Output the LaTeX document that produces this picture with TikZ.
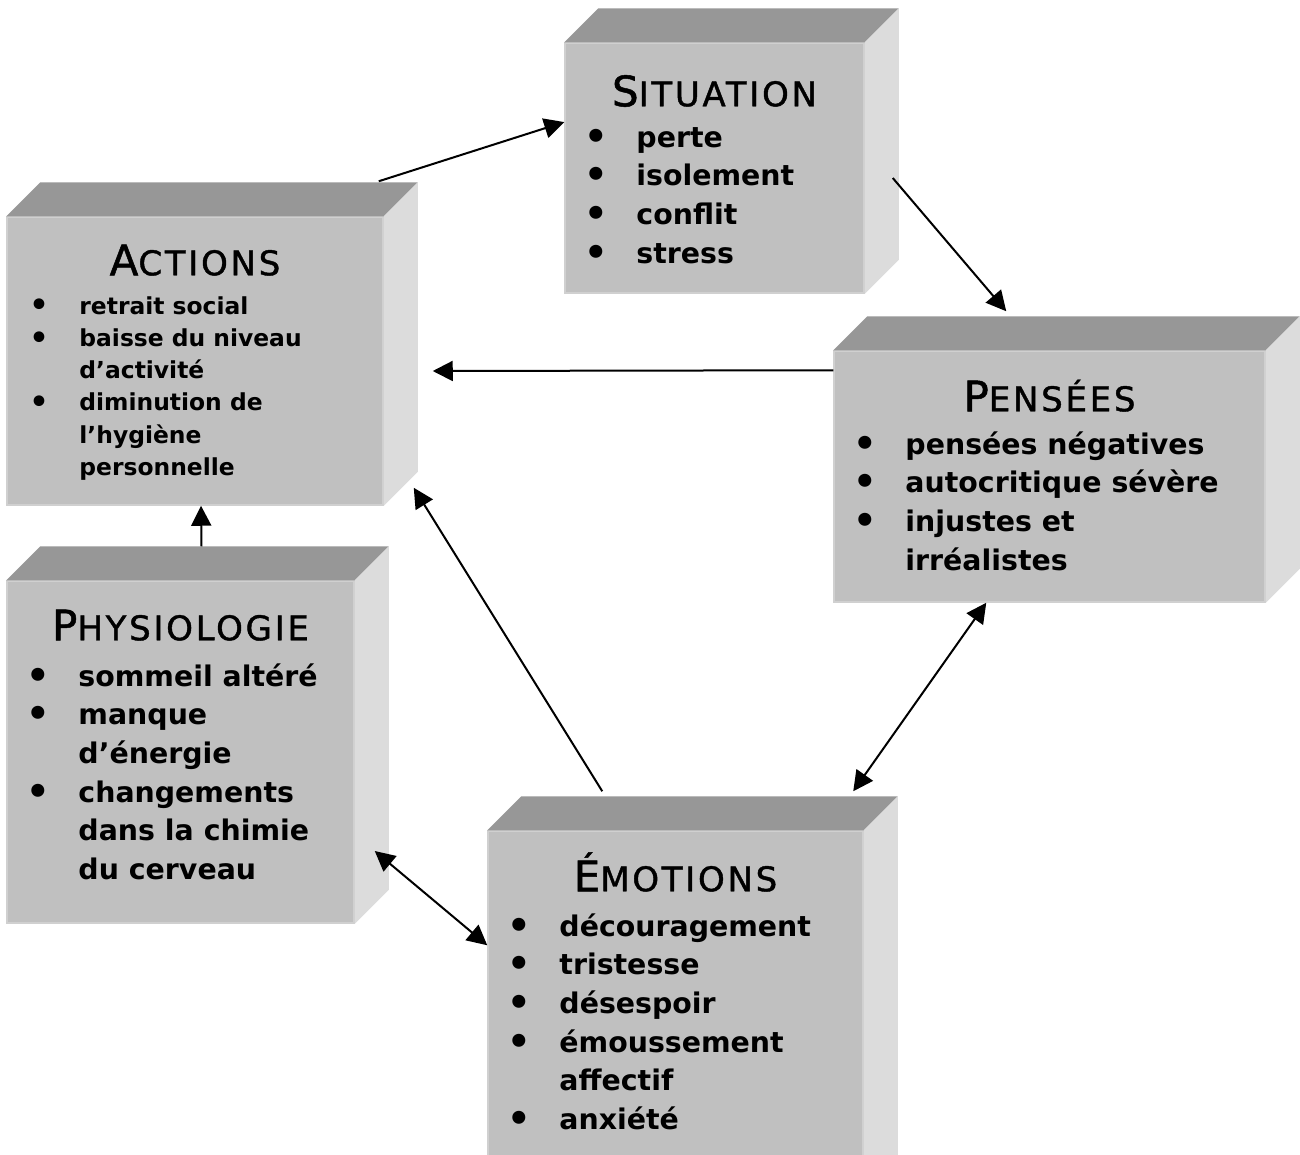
\documentclass[tikz,border=0pt]{standalone}
\usepackage{fontspec}
\setmainfont{DejaVu Sans}
\newfontfamily\capsfont[LetterSpace=8,FakeBold=1.2]{DejaVu Sans}
\usetikzlibrary{arrows.meta,calc}

\definecolor{frontgray}{HTML}{C0C0C0}
\definecolor{frontedge}{HTML}{D0D0D0}
\definecolor{topgray}{HTML}{979797}
\definecolor{sidegray}{HTML}{DCDCDC}

% fake small capitals for the box titles
\newcommand\smcap[2]{{\capsfont\fontsize{42}{42}\selectfont #1\fontsize{34}{34}\selectfont #2}}
\newcommand\bigitems{\fontsize{28.4}{38.6}\selectfont\bfseries}
\newcommand\smallitems{\fontsize{23.4}{32.2}\selectfont\bfseries}
% a slightly larger bullet
\newcommand\blt{\raisebox{-0.07em}{\scalebox{1.3}{\textbullet}}}

\tikzset{
  front/.style={draw=frontedge, line width=1.5pt, fill=frontgray, inner sep=0pt},
  topface/.style={fill=topgray},
  sideface/.style={fill=sidegray},
  title/.style={anchor=base, inner sep=0pt},
  items/.style={anchor=base west, inner sep=0pt},
  link/.style={line width=2pt, -{Triangle[length=20pt,width=20pt]}},
  twoway/.style={line width=2pt, {Triangle[length=20pt,width=20pt]}-{Triangle[length=20pt,width=20pt]}}
}

\begin{document}
\begin{tikzpicture}[x=1pt,y=-1pt]
  \useasboundingbox (0,0) rectangle (1300,1154);
  \clip (0,0) rectangle (1300,1154);

  % front faces
  \node[front, minimum width=299pt, minimum height=250pt] (sit) at (714.5,168) {};
  \node[front, minimum width=376pt, minimum height=288pt] (act) at (195,361) {};
  \node[front, minimum width=431pt, minimum height=251pt] (pen) at (1049.5,476.5) {};
  \node[front, minimum width=347pt, minimum height=342pt] (phy) at (180.5,752) {};
  \node[front, minimum width=375pt, minimum height=360pt] (emo) at (675.5,1011) {};

  % top and right faces
  \foreach \b in {sit,act,pen,phy,emo}{
    \fill[topface] (\b.north west) -- ++(34pt,34pt) -- ([shift={(34pt,34pt)}]\b.north east) -- (\b.north east) -- cycle;
    \fill[sideface] (\b.north east) -- ([shift={(34pt,34pt)}]\b.north east) -- ([shift={(34pt,34pt)}]\b.south east) -- (\b.south east) -- cycle;
  }

  % texts
  \node[title] at ([yshift=-64pt]sit.north) {\smcap{S}{ITUATION}};
  \node[items, font=\bigitems] at ([xshift=20pt,yshift=-105pt]sit.north west)
    {\begin{tabular}[t]{@{}p{52pt}@{}l@{}}
      \blt & perte\\ \blt & isolement\\ \blt & conflit\\ \blt & stress
    \end{tabular}};

  \node[title] at ([yshift=-59pt]act.north) {\smcap{A}{CTIONS}};
  \node[items, font=\smallitems] at ([xshift=23pt,yshift=-98pt]act.north west)
    {\begin{tabular}[t]{@{}p{50pt}@{}l@{}}
      \blt & retrait social\\ \blt & baisse du niveau\\ & d’activité\\
      \blt & diminution de\\ & l’hygiène\\ & personnelle
    \end{tabular}};

  \node[title] at ([yshift=-61pt]pen.north) {\smcap{P}{ENSÉES}};
  \node[items, font=\bigitems] at ([xshift=20pt,yshift=-104pt]pen.north west)
    {\begin{tabular}[t]{@{}p{52pt}@{}l@{}}
      \blt & pensées négatives\\ \blt & autocritique sévère\\
      \blt & injustes et\\ & irréalistes
    \end{tabular}};

  \node[title] at ([yshift=-60pt]phy.north) {\smcap{P}{HYSIOLOGIE}};
  \node[items, font=\bigitems] at ([xshift=20pt,yshift=-106pt]phy.north west)
    {\begin{tabular}[t]{@{}p{52pt}@{}l@{}}
      \blt & sommeil altéré\\ \blt & manque\\ & d’énergie\\
      \blt & changements\\ & dans la chimie\\ & du cerveau
    \end{tabular}};

  \node[title] at ([yshift=-61pt]emo.north) {\smcap{É}{MOTIONS}};
  \node[items, font=\bigitems] at ([xshift=20pt,yshift=-106pt]emo.north west)
    {\begin{tabular}[t]{@{}p{52pt}@{}l@{}}
      \blt & découragement\\ \blt & tristesse\\ \blt & désespoir\\
      \blt & émoussement\\ & affectif\\ \blt & anxiété
    \end{tabular}};

  % connectors
  \draw[link] ([xshift=-5pt,yshift=35pt]act.north east) -- (sit.163);
  \draw[link] ([xshift=28pt,yshift=-10pt]sit.east) -- ([xshift=173pt,yshift=39pt]pen.north west);
  \draw[link] ([yshift=-20pt]pen.north west) -- ([xshift=49pt,yshift=-10pt]act.east);
  \draw[link] ([xshift=115pt,yshift=39pt]emo.north west) -- ([xshift=30pt,yshift=18pt]act.south east);
  \draw[twoway] ([xshift=153pt]pen.south west) -- ([xshift=366pt,yshift=39pt]emo.north west);
  \draw[link] ([xshift=21pt,yshift=34pt]phy.north) -- ([xshift=6pt]act.south);
  \draw[twoway] ([xshift=20pt,yshift=-99pt]phy.east) -- ([yshift=-115pt]emo.north west);
\end{tikzpicture}
\end{document}
